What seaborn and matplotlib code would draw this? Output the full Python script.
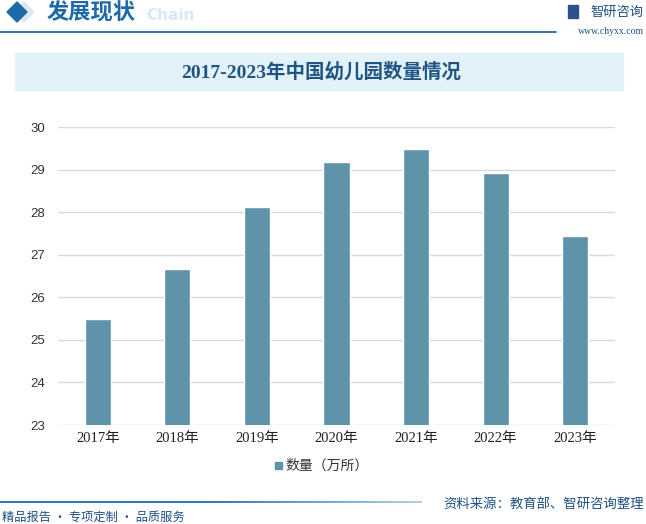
import matplotlib
matplotlib.use("Agg")
import matplotlib.pyplot as plt
import seaborn as sns
import pandas as pd
import numpy as np
from matplotlib.patches import Rectangle, Polygon
from matplotlib.colors import to_rgb

years = ["2017年", "2018年", "2019年", "2020年", "2021年", "2022年", "2023年"]
counts = [25.50, 26.67, 28.12, 29.17, 29.48, 28.92, 27.44]
yticks = [23, 24, 25, 26, 27, 28, 29, 30]
title = "2017-2023年中国幼儿园数量情况"
legend_label = "数量（万所）"

sns.set_theme(style="white")
plt.rcParams['font.family'] = ['Noto Sans CJK SC', 'DejaVu Sans']

W, H = 646, 524
fig = plt.figure(figsize=(W / 100, H / 100), dpi=100)

def fx(x):
    return x / W

def fy(y):
    return 1 - y / H

# header
fig.patches.append(Polygon([[fx(14), fy(12)], [fx(24), fy(2)], [fx(34), fy(12)], [fx(24), fy(22)]],
                           closed=True, transform=fig.transFigure, color="#dbe9f3"))
fig.patches.append(Polygon([[fx(7), fy(12)], [fx(17), fy(2)], [fx(27), fy(12)], [fx(17), fy(22)]],
                           closed=True, transform=fig.transFigure, color="#1e6aa8"))
fig.text(fx(146), fy(15), "Chain", fontsize=11, fontweight="bold", color="#d6e8f5", va="center", ha="left",
         family=["DejaVu Sans"])
fig.text(fx(47), fy(13), "发展现状", fontsize=16, fontweight="bold", color="#1e6aa8", va="center", ha="left")
fig.add_artist(plt.Line2D([0, fx(556)], [fy(32), fy(32)], color="#1e6aa8", lw=1.3, transform=fig.transFigure))
fig.patches.append(Rectangle((fx(568), fy(18)), fx(10), 13 / H, transform=fig.transFigure, color="#2d4f8e"))
fig.text(fx(590), fy(12), "智研咨询", fontsize=9.5, color="#1e4f86", va="center", ha="left")
fig.text(fx(644), fy(32), "www.chyxx.com", fontsize=7, color="#1e4f86", va="center", ha="right",
         family=["Liberation Serif"])

# title band
fig.patches.append(Rectangle((fx(15), fy(90)), fx(623) - fx(15), 37 / H, transform=fig.transFigure,
                             color="#e3f1f9", zorder=0))
fig.text(fx(321), fy(72), title, fontsize=14, fontweight="bold", color="#1f5584", va="center", ha="center",
         family=["Liberation Serif", "Noto Sans CJK SC"])

# axes
ax = fig.add_axes([fx(58), fy(425), fx(615) - fx(58), (425 - 127) / H])
df = pd.DataFrame({"year": years, "count": counts})
sns.barplot(data=df, x="year", y="count", color="#5e93a9", width=0.33, ax=ax, saturation=1)
ax.set_ylim(23, 30)
ax.set_yticks(yticks)
ax.set_yticklabels([str(t) for t in yticks], fontsize=9.5, color="#333333", family=["Liberation Sans"])
ax.tick_params(axis="x", labelsize=10.5, colors="#222222", length=0, pad=5)
ax.tick_params(axis="y", length=0, pad=9)
for lab in ax.get_xticklabels():
    lab.set_family(["Liberation Serif", "Noto Sans CJK SC"])
ax.set_xlabel("")
ax.set_ylabel("")
ax.yaxis.grid(True, color="#d9d9d9", lw=1)
ax.set_axisbelow(True)
for s in ax.spines.values():
    s.set_visible(False)
ax.set_facecolor("none")

# legend
fig.patches.append(Rectangle((fx(275), fy(469)), 7 / W, 7 / H, transform=fig.transFigure, color="#5e93a9"))
fig.text(fx(285), fy(466), legend_label, fontsize=10, color="#333333", va="center", ha="left")

# footer gradient line
c0 = np.array(to_rgb("#1e6aa8"))
c1 = np.array(to_rgb("#a9cbe3"))
n = 60
xs = np.linspace(0, 422, n + 1)
for i in range(n):
    t = i / (n - 1)
    t = max(0.0, (t - 0.5) / 0.5)
    col = c0 * (1 - t) + c1 * t
    fig.add_artist(plt.Line2D([fx(xs[i]), fx(xs[i + 1])], [fy(502), fy(502)], color=col, lw=1.3,
                              transform=fig.transFigure, solid_capstyle="butt"))
fig.text(fx(2), fy(517), "精品报告 · 专项定制 · 品质服务", fontsize=8.8, color="#1e4f86", va="center", ha="left")
fig.text(fx(644), fy(504), "资料来源：教育部、智研咨询整理", fontsize=9.6, color="#1e4f86", va="center", ha="right")

fig.savefig("out.png", dpi=100)
